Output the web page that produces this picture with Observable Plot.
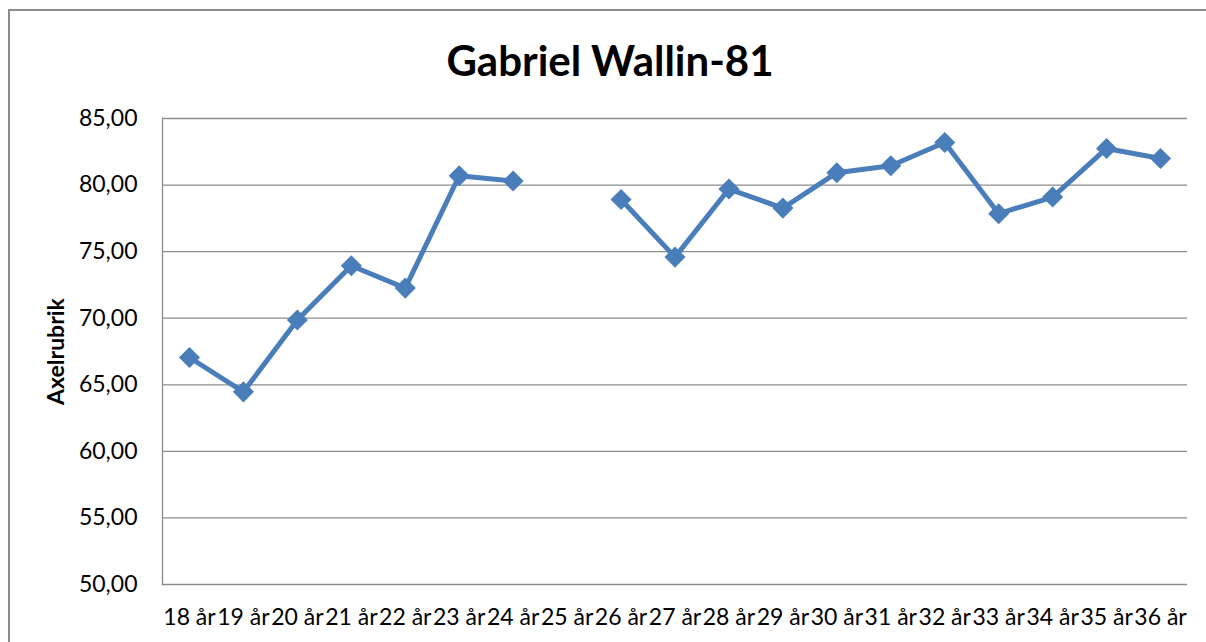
<!DOCTYPE html>
<html>
<head>
<meta charset="utf-8">
<script src="https://cdn.jsdelivr.net/npm/d3@7"></script>
<script src="https://cdn.jsdelivr.net/npm/@observablehq/plot@0.6"></script>
<style>
  html, body { margin: 0; padding: 0; background: #fff; }
  #wrap { position: relative; width: 1206px; height: 642px; overflow: hidden; font-family: Lato, "Noto Sans", sans-serif; }
  #frame { position: absolute; left: 8px; top: 9px; width: 1300px; height: 700px; border-left: 2px solid #8c8c8c; border-top: 2px solid #8c8c8c; }
  #title { position: absolute; left: 8px; top: 40px; width: 1204px; height: 40px; line-height: 40px; text-align: center; font-size: 42px; font-weight: bold; color: #000; }
  #chart { position: absolute; left: 0; top: 100px; }
</style>
</head>
<body>
<div id="wrap">
  <div id="frame"></div>
  <div id="title">Gabriel Wallin-81</div>
  <div id="chart"></div>
</div>
<script>
const categories = ["18 år","19 år","20 år","21 år","22 år","23 år","24 år","25 år","26 år","27 år","28 år","29 år","30 år","31 år","32 år","33 år","34 år","35 år","36 år"];
const values = [67.05, 64.47, 69.86, 73.94, 72.26, 80.70, 80.30, null, 78.92, 74.59, 79.70, 78.27, 80.93, 81.45, 83.20, 77.85, 79.10, 82.75, 82.00];
const yTicks = [50, 55, 60, 65, 70, 75, 80, 85];
const titleText = "Gabriel Wallin-81";
const yLabel = "Axelrubrik";

const data = categories.map((c, i) => ({cat: c, val: values[i]}));
const fmt = v => d3.format(".2f")(v).replace(".", ",");

const plot = Plot.plot({
  width: 1206,
  height: 542,
  marginLeft: 162,
  marginRight: 19,
  marginTop: 18,
  marginBottom: 58,
  style: {fontFamily: "Lato, 'Noto Sans', sans-serif", background: "transparent", color: "#000"},
  x: {type: "point", domain: categories, padding: 0.5, round: false},
  y: {domain: [50, 85]},
  marks: [
    Plot.gridY(yTicks, {stroke: "#8c8c8c", strokeOpacity: 1, strokeWidth: 1.3}),
    Plot.frame({anchor: "left", stroke: "#8c8c8c", strokeOpacity: 1, strokeWidth: 1.3}),
    Plot.axisY(yTicks, {
      tickSize: 0, tickPadding: 25, tickFormat: fmt, fontSize: 23, fill: "#000",
      label: yLabel, labelAnchor: "center", labelArrow: "none", labelOffset: 115
    }),
    Plot.axisX({tickSize: 0, tickPadding: 24, fontSize: 23, fill: "#000", label: null}),
    Plot.line(data, {x: "cat", y: "val", stroke: "#4a7ebb", strokeWidth: 5, strokeLinejoin: "round"}),
    Plot.dot(data.filter(d => d.val != null), {x: "cat", y: "val", symbol: "diamond2", r: 9.5, fill: "#4a7ebb", stroke: "none"})
  ]
});
document.getElementById("chart").appendChild(plot);
document.getElementById("title").textContent = titleText;
plot.querySelectorAll("g[aria-label='y-axis label'] text").forEach(t => { t.setAttribute("font-weight", "bold"); t.setAttribute("font-size", "23"); });
</script>
</body>
</html>
